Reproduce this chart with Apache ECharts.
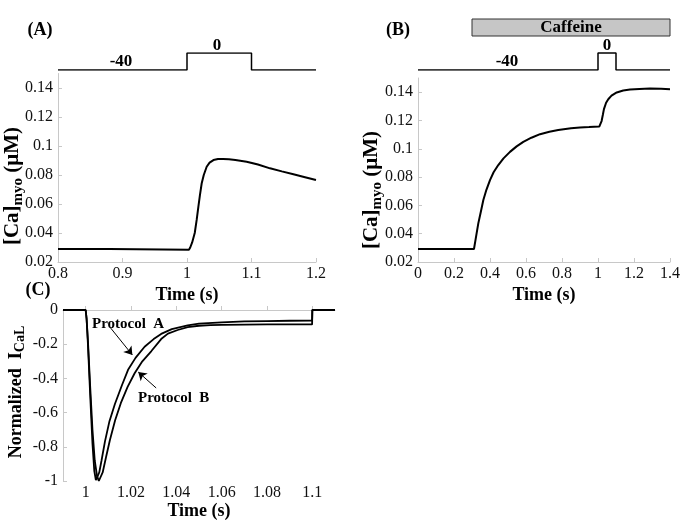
<!DOCTYPE html>
<html><head><meta charset="utf-8">
<script src="https://cdn.jsdelivr.net/npm/echarts@6/dist/echarts.min.js"></script>
<style>html,body{margin:0;padding:0;background:#fff}#c{width:685px;height:529px}</style>
</head><body><div id="c"></div><script>
// ---- data ----
const protocolA = [[0.8,-40],[1.0,-40],[1.0,0],[1.1,0],[1.1,-40],[1.2,-40]];
const protocolB = [[0,-40],[1.0,-40],[1.0,0],[1.1,0],[1.1,-40],[1.4,-40]];
const caffeineSpan = [0.3, 1.4];
const caMyoA = [[0.8,0.029],[0.88,0.029],[0.8801,0.0285],[1.003,0.0285],[1.005,0.030],[1.008,0.0335],[1.012,0.040],[1.015,0.049],[1.0176,0.058],[1.02,0.066],[1.0228,0.0743],[1.026,0.080],[1.0305,0.0857],[1.035,0.0885],[1.041,0.0903],[1.048,0.091],[1.056,0.0911],[1.065,0.0908],[1.075,0.0903],[1.0925,0.0892],[1.11,0.0872],[1.1287,0.0846],[1.147,0.0825],[1.165,0.0805],[1.183,0.0785],[1.2,0.0766]];
const caMyoB = [[0,0.0292],[0.311,0.0292],[0.32,0.036],[0.335,0.0473],[0.35,0.056],[0.363,0.0638],[0.38,0.071],[0.4,0.0779],[0.42,0.0834],[0.446,0.0885],[0.475,0.0932],[0.511,0.0978],[0.548,0.1017],[0.585,0.1049],[0.63,0.1078],[0.678,0.1103],[0.73,0.112],[0.779,0.1132],[0.85,0.1145],[0.9,0.115],[0.95,0.1153],[1.007,0.1157],[1.013,0.117],[1.02,0.1196],[1.027,0.124],[1.033,0.128],[1.045,0.1325],[1.057,0.135],[1.075,0.1375],[1.104,0.1398],[1.14,0.1412],[1.178,0.1418],[1.23,0.1422],[1.289,0.1425],[1.35,0.1424],[1.4,0.1421]];
const iCaLA = [[0.99,0],[1.0,0],[1.0004,-0.05],[1.001,-0.2],[1.002,-0.5],[1.003,-0.78],[1.0038,-0.94],[1.0045,-0.995],[1.0052,-0.99],[1.006,-0.95],[1.007,-0.88],[1.0085,-0.77],[1.0105,-0.65],[1.0129,-0.55],[1.016,-0.44],[1.0187,-0.35],[1.022,-0.28],[1.026,-0.215],[1.03,-0.17],[1.0333,-0.14],[1.038,-0.112],[1.045,-0.09],[1.05,-0.08],[1.06,-0.072],[1.07,-0.067],[1.08,-0.065],[1.09,-0.063],[1.0999,-0.062],[1.1,0],[1.11,0]];
const iCaLB = [[0.99,0],[1.0,0],[1.0004,-0.05],[1.001,-0.18],[1.002,-0.45],[1.003,-0.7],[1.004,-0.88],[1.005,-0.97],[1.0058,-1.0],[1.0066,-0.99],[1.0075,-0.95],[1.009,-0.86],[1.0107,-0.76],[1.013,-0.645],[1.0155,-0.545],[1.0185,-0.45],[1.0216,-0.37],[1.025,-0.3],[1.029,-0.24],[1.0333,-0.17],[1.0363,-0.138],[1.0406,-0.117],[1.045,-0.1],[1.05,-0.092],[1.055,-0.089],[1.06,-0.087],[1.07,-0.085],[1.08,-0.084],[1.0999,-0.084],[1.1,0],[1.11,0]];
const xTicksA = [0.8,0.9,1,1.1,1.2];
const xTicksB = [0,0.2,0.4,0.6,0.8,1,1.2,1.4];
const xTicksC = [1,1.02,1.04,1.06,1.08,1.1];
const yTicksCa = [0.02,0.04,0.06,0.08,0.1,0.12,0.14];
const yTicksC = [-1,-0.8,-0.6,-0.4,-0.2,0];
const arrowA = [[1.011,-0.105],[1.0206,-0.263]];
const arrowB = [[1.0311,-0.456],[1.0232,-0.363]];

// ---- styles ----
const SERIF = 'Liberation Serif';
const axisGray = '#c8c8c8';
const fmt = v => String(+(+v).toFixed(4));
function valAxis(grid, min, max, ticks, opts) {
  return Object.assign({
    type: 'value', gridIndex: grid, min: min, max: max,
    axisLine: {show: true, lineStyle: {color: axisGray, width: 1}},
    axisTick: {show: true, inside: true, length: 4, customValues: ticks, lineStyle: {color: axisGray}},
    axisLabel: {customValues: ticks, formatter: fmt, fontFamily: SERIF, fontSize: 16, color: '#111', margin: 4},
    splitLine: {show: false}
  }, opts || {});
}
const hidden = (grid, min, max) => ({type: 'value', gridIndex: grid, min: min, max: max, show: false, splitLine: {show: false}});
const nameStyle = {fontFamily: SERIF, fontSize: 18, fontWeight: 'bold', color: '#000'};
const yLab = ticks => ({customValues: ticks, formatter: fmt, fontFamily: SERIF, fontSize: 16, color: '#111', margin: 5});

const chart = echarts.init(document.getElementById('c'), null, {renderer: 'canvas'});
const grids = [
  {left: 58, top: 53, width: 258, height: 17},
  {left: 58, top: 73.5, width: 258, height: 188.5},
  {left: 418, top: 19, width: 252, height: 51},
  {left: 418, top: 78, width: 252, height: 184},
  {left: 63, top: 310, width: 272, height: 171}
].map(g => Object.assign({containLabel: false, outerBoundsMode: 'none'}, g));

function ytitle(x, y, main, sub, tail, fs, sfs) {
  return {
    type: 'text', x: x, y: y, rotation: Math.PI / 2,
    style: {
      text: '{m|' + main + '}{s|' + sub + '}{m|' + tail + '}',
      align: 'center', verticalAlign: 'middle',
      rich: {
        m: {fontFamily: SERIF, fontSize: fs, fontWeight: 'bold', fill: '#000', lineHeight: fs + 4},
        s: {fontFamily: SERIF, fontSize: sfs, fontWeight: 'bold', fill: '#000', lineHeight: sfs, verticalAlign: 'bottom'}
      }
    }
  };
}
function txt(x, y, s, fs, align) {
  return {type: 'text', x: x, y: y, style: {text: s, fontFamily: SERIF, fontSize: fs, fontWeight: 'bold', fill: '#000', align: align || 'center', verticalAlign: 'middle'}};
}
const arrowLine = (a) => [{coord: a[0], symbol: 'none'}, {coord: a[1], symbol: 'arrow'}];

chart.setOption({
  animation: false,
  backgroundColor: '#fff',
  grid: grids,
  xAxis: [
    hidden(0, 0.8, 1.2),
    valAxis(1, 0.8, 1.2, xTicksA, {name: 'Time (s)', nameLocation: 'middle', nameGap: 24, nameTextStyle: nameStyle}),
    hidden(2, 0, 1.4),
    valAxis(3, 0, 1.4, xTicksB, {name: 'Time (s)', nameLocation: 'middle', nameGap: 24, nameTextStyle: nameStyle}),
    valAxis(4, 0.99, 1.11, xTicksC, {name: 'Time (s)', nameLocation: 'middle', nameGap: 16, nameTextStyle: nameStyle})
  ],
  yAxis: [
    hidden(0, -40, 0),
    valAxis(1, 0.02, 0.15, yTicksCa, {axisLabel: yLab(yTicksCa)}),
    hidden(2, -40, 80),
    valAxis(3, 0.02, 0.15, yTicksCa, {axisLabel: yLab(yTicksCa)}),
    valAxis(4, -1, 0, yTicksC, {axisLabel: yLab(yTicksC)})
  ],
  series: [
    {type: 'line', xAxisIndex: 0, yAxisIndex: 0, data: protocolA, showSymbol: false, lineStyle: {color: '#000', width: 1.5}, silent: true},
    {type: 'line', xAxisIndex: 1, yAxisIndex: 1, data: caMyoA, showSymbol: false, lineStyle: {color: '#000', width: 2}, silent: true},
    {type: 'line', xAxisIndex: 2, yAxisIndex: 2, data: protocolB, showSymbol: false, lineStyle: {color: '#000', width: 1.5}, silent: true,
      markArea: {silent: true,
        itemStyle: {color: '#c6c6c6', borderColor: '#333', borderWidth: 1},
        label: {show: true, position: 'inside', fontFamily: SERIF, fontSize: 17, fontWeight: 'bold', color: '#000'},
        data: [[{name: 'Caffeine', coord: [caffeineSpan[0], 40]}, {coord: [caffeineSpan[1], 80]}]]}},
    {type: 'line', xAxisIndex: 3, yAxisIndex: 3, data: caMyoB, showSymbol: false, lineStyle: {color: '#000', width: 2}, silent: true},
    {type: 'line', xAxisIndex: 4, yAxisIndex: 4, data: iCaLA, showSymbol: false, lineStyle: {color: '#000', width: 1.8}, silent: true,
      markLine: {silent: true, symbolSize: 8, label: {show: false}, lineStyle: {color: '#000', width: 1, type: 'solid'},
        data: [arrowLine(arrowA), arrowLine(arrowB)]}},
    {type: 'line', xAxisIndex: 4, yAxisIndex: 4, data: iCaLB, showSymbol: false, lineStyle: {color: '#000', width: 1.8}, silent: true}
  ],
  graphic: [
    txt(40, 30, '(A)', 18), txt(398, 30, '(B)', 18), txt(38, 290, '(C)', 18),
    txt(121, 62, '-40', 17), txt(217, 46, '0', 17),
    txt(507, 62, '-40', 17), txt(607, 46, '0', 17),
    txt(92, 324, 'Protocol  A', 15, 'left'), txt(138, 398, 'Protocol  B', 15, 'left'),
    ytitle(13, 186, '[Ca]', 'myo', ' (\u03BCM)', 21, 15),
    ytitle(372, 190, '[Ca]', 'myo', ' (\u03BCM)', 21, 15),
    ytitle(16, 392, 'Normalized  I', 'CaL', '', 18, 14)
  ]
});
</script></body></html>
